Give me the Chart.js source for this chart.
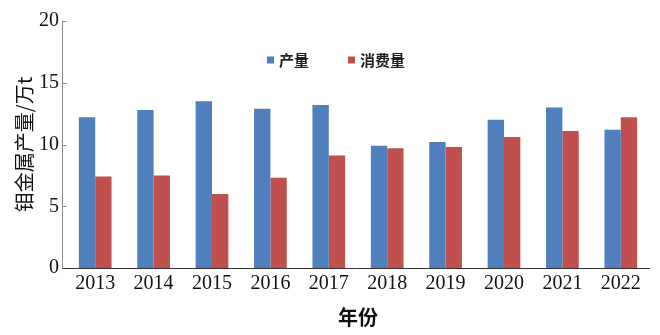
<!DOCTYPE html>
<html>
<head>
<meta charset="utf-8">
<script src="https://cdn.jsdelivr.net/npm/chart.js@4"></script>
<style>
html, body { margin: 0; padding: 0; background: #fff; }
#wrap { width: 660px; height: 335px; }
</style>
</head>
<body>
<div id="wrap"><canvas id="moChart"></canvas></div>
<script>
// 钼金属产量与消费量（万t）
var years = ['2013', '2014', '2015', '2016', '2017', '2018', '2019', '2020', '2021', '2022'];
var output = [12.2, 12.8, 13.5, 12.9, 13.2, 9.9, 10.2, 12.0, 13.0, 11.2];
var consumption = [7.4, 7.5, 6.0, 7.3, 9.1, 9.7, 9.8, 10.6, 11.1, 12.2];
var yTicks = [0, 5, 10, 15, 20];

var serif = "'Liberation Serif', 'Times New Roman', serif";
var cjk = "'Noto Sans CJK SC', sans-serif";

// 坐标轴线、内向刻度和图例手动绘制
var axisPlugin = {
	id: 'axisLines',
	afterDraw: function(chart) {
		var ctx = chart.ctx;
		var area = chart.chartArea;
		var yScale = chart.scales.y;
		var x0 = Math.round(area.left) - 4 + 0.5;
		ctx.save();
		ctx.lineWidth = 1;
		ctx.strokeStyle = '#8a8a8a';
		ctx.beginPath();
		ctx.moveTo(x0, area.top);
		ctx.lineTo(x0, area.bottom);
		yTicks.forEach(function(v) {
			var py = Math.round(yScale.getPixelForValue(v)) + 0.5;
			ctx.moveTo(x0, py);
			ctx.lineTo(x0 + 4, py);
		});
		ctx.stroke();
		ctx.strokeStyle = '#333333';
		ctx.beginPath();
		var by = Math.round(area.bottom) + 0.5;
		ctx.moveTo(x0, by);
		ctx.lineTo(area.right, by);
		ctx.stroke();

		// 图例
		var items = [
			{ x: 267, ds: chart.data.datasets[0] },
			{ x: 348, ds: chart.data.datasets[1] }
		];
		var ly = 60;
		ctx.font = 'bold 15px ' + cjk;
		ctx.textBaseline = 'middle';
		ctx.textAlign = 'left';
		items.forEach(function(it) {
			ctx.fillStyle = it.ds.backgroundColor;
			ctx.fillRect(it.x, ly - 3.5, 7, 7);
			ctx.fillStyle = '#222';
			ctx.fillText(it.ds.label, it.x + 12, ly);
		});
		ctx.restore();
	}
};

var ctx = document.getElementById('moChart').getContext('2d');
var myChart = new Chart(ctx, {
	type: 'bar',
	data: {
		labels: years,
		datasets: [{
			label: '产量',
			data: output,
			backgroundColor: '#4f7fbd'
		}, {
			label: '消费量',
			data: consumption,
			backgroundColor: '#c0504d'
		}]
	},
	options: {
		responsive: true,
		maintainAspectRatio: false,
		animation: false,
		layout: {
			padding: { top: 21, right: 10, bottom: 0, left: 0 }
		},
		plugins: {
			legend: { display: false },
			tooltip: { enabled: false }
		},
		datasets: {
			bar: {
				categoryPercentage: 0.56,
				barPercentage: 1
			}
		},
		scales: {
			x: {
				afterFit: function(scale) { scale.height = 67; },
				grid: { display: false, drawTicks: false },
				border: { display: false },
				ticks: {
					padding: 4,
					color: '#111',
					font: { family: serif, size: 20 }
				},
				title: {
					display: true,
					text: '年份',
					color: '#111',
					padding: { top: 0, bottom: 6 },
					font: { family: cjk, size: 20, weight: 'bold' }
				}
			},
			y: {
				min: yTicks[0],
				max: yTicks[yTicks.length - 1],
				afterFit: function(scale) { scale.width = 66; },
				grid: { display: false, drawTicks: false },
				border: { display: false },
				ticks: {
					stepSize: 5,
					padding: 7,
					color: '#111',
					font: { family: serif, size: 20 }
				},
				title: {
					display: true,
					text: '钼金属产量/万t',
					color: '#111',
					padding: { top: 12, bottom: 0 },
					font: { family: cjk, size: 20 }
				}
			}
		}
	},
	plugins: [axisPlugin]
});
</script>
</body>
</html>
